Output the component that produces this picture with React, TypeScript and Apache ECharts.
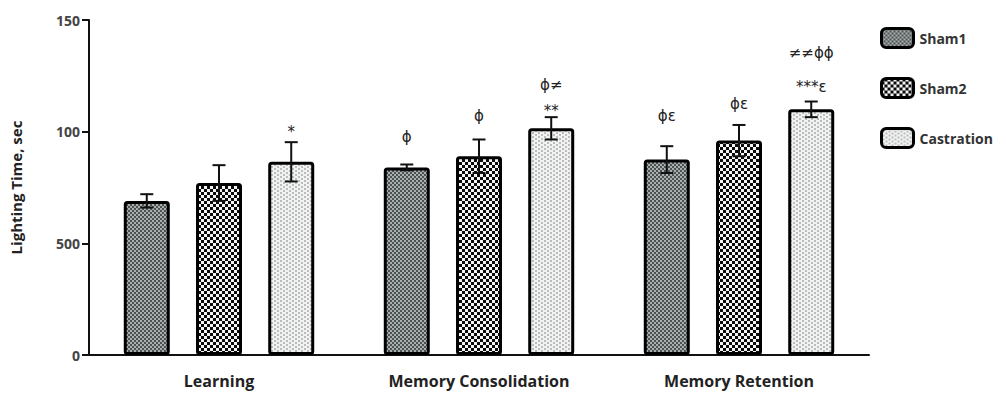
import React, { useEffect, useRef } from "react";
import * as echarts from "echarts";

const categories = ["Learning", "Memory Consolidation", "Memory Retention"];
const seriesNames = ["Sham1", "Sham2", "Castration"];
const sham1Means = [69, 84, 87.5];
const sham1Errors = [3, 1.3, 6];
const sham2Means = [77, 89, 96];
const sham2Errors = [8, 7.5, 7];
const castrationMeans = [86.5, 101.5, 110];
const castrationErrors = [8.8, 5, 3.5];
const yTickValues = [0, 50, 100, 150];
const yTickLabels = ["0", "500", "100", "150"];

// annotation: category index, series index, text, level (data units, centre of text)
const annotationCats = [0, 1, 1, 1, 1, 2, 2, 2, 2];
const annotationSeries = [2, 0, 1, 2, 2, 0, 1, 2, 2];
const annotationTexts = ["*", "ϕ", "ϕ", "**", "ϕ≠", "ϕε", "ϕε", "***ε", "≠≠ϕϕ"];
const annotationLevels = [101, 97.7, 107.2, 110.5, 120.7, 106.8, 112.6, 121.5, 135.1];

const FONT = "'Open Sans', 'DejaVu Sans', sans-serif";
const BAR_W = 46;
const BAR_GAP = 0.57;

function makePattern(kind: number): HTMLCanvasElement {
  const c = document.createElement("canvas");
  const ctx = c.getContext("2d")!;
  if (kind === 0) {
    c.width = 4;
    c.height = 4;
    ctx.fillStyle = "#4c5252";
    ctx.fillRect(0, 0, 4, 4);
    ctx.fillStyle = "#a9afaf";
    ctx.fillRect(0, 0, 2, 2);
    ctx.fillRect(2, 2, 2, 2);
  } else if (kind === 1) {
    c.width = 6;
    c.height = 6;
    ctx.fillStyle = "#0a0a0a";
    ctx.fillRect(0, 0, 6, 6);
    ctx.fillStyle = "#f4f4f4";
    ctx.fillRect(0, 0, 3, 3);
    ctx.fillRect(3, 3, 3, 3);
  } else {
    c.width = 6;
    c.height = 4;
    ctx.fillStyle = "#b9bdbd";
    ctx.fillRect(0, 0, 6, 4);
    ctx.fillStyle = "#f2f2f2";
    ctx.fillRect(0, 0, 4, 2);
    ctx.fillRect(3, 2, 4, 2);
    ctx.fillRect(0, 2, 1, 2);
  }
  return c;
}

export default function App() {
  const ref = useRef<HTMLDivElement>(null);

  useEffect(() => {
    if (!ref.current) return;
    const chart = echarts.init(ref.current, null, { renderer: "svg" });
    const means = [sham1Means, sham2Means, castrationMeans];
    const errors = [sham1Errors, sham2Errors, castrationErrors];
    const step = BAR_W * (1 + BAR_GAP);

    const barSeries = seriesNames.map((name, s) => ({
      name,
      type: "bar",
      data: means[s],
      barWidth: BAR_W,
      barGap: BAR_GAP * 100 + "%",
      z: 2,
      itemStyle: {
        color: { image: makePattern(s), repeat: "repeat" },
        borderColor: "#000",
        borderWidth: 3,
        borderRadius: 2,
      },
    }));

    const errData: number[][] = [];
    for (let s = 0; s < 3; s++) {
      for (let c = 0; c < categories.length; c++) {
        errData.push([c, means[s][c], errors[s][c], s]);
      }
    }

    const option: any = {
      animation: false,
      grid: { left: 83, top: 20, width: 786, bottom: 38 },
      legend: {
        orient: "vertical",
        left: 880,
        top: 27,
        padding: 0,
        itemWidth: 32,
        itemHeight: 19,
        itemGap: 28,
        icon: "roundRect",
        data: seriesNames,
        itemStyle: { borderColor: "#000", borderWidth: 3 },
        textStyle: { fontFamily: FONT, fontWeight: "bold", fontSize: 14, color: "#333", padding: [0, 0, 0, 1] },
        selectedMode: false,
      },
      xAxis: {
        type: "category",
        data: categories,
        axisLine: { lineStyle: { color: "#111", width: 2 } },
        axisTick: { alignWithLabel: true, length: 7, lineStyle: { color: "#111", width: 2 } },
        axisLabel: { fontFamily: FONT, fontWeight: "bold", fontSize: 16, color: "#222", margin: 18 },
      },
      yAxis: {
        type: "value",
        min: 0,
        max: 150,
        interval: 50,
        name: "Lighting Time, sec",
        nameLocation: "middle",
        nameGap: 66,
        nameTextStyle: { fontFamily: FONT, fontWeight: "bold", fontSize: 15, color: "#222" },
        axisLine: { show: true, lineStyle: { color: "#111", width: 2 } },
        axisTick: { show: true, length: 7, lineStyle: { color: "#111", width: 2 } },
        splitLine: { show: false },
        axisLabel: {
          fontFamily: FONT,
          fontWeight: "bold",
          fontSize: 14,
          color: "#444",
          margin: 9,
          formatter: (v: number) => {
            const i = yTickValues.indexOf(v);
            return i >= 0 ? yTickLabels[i] : "";
          },
        },
      },
      series: [
        ...barSeries,
        {
          type: "custom",
          z: 5,
          silent: true,
          data: errData,
          renderItem: (params: any, api: any) => {
            const c = api.value(0);
            const m = api.value(1);
            const e = api.value(2);
            const s = api.value(3);
            const x = api.coord([c, m])[0] + (s - 1) * step;
            const yT = api.coord([c, m + e])[1];
            const yB = api.coord([c, m - e])[1];
            const cap = 6.5;
            const st = { stroke: "#111", lineWidth: 2 };
            return {
              type: "group",
              children: [
                { type: "line", shape: { x1: x, y1: yT, x2: x, y2: yB }, style: st },
                { type: "line", shape: { x1: x - cap, y1: yT, x2: x + cap, y2: yT }, style: st },
                { type: "line", shape: { x1: x - cap, y1: yB, x2: x + cap, y2: yB }, style: st },
              ],
            };
          },
        },
        {
          type: "custom",
          z: 6,
          silent: true,
          data: annotationCats.map((c, i) => [c, annotationLevels[i], annotationSeries[i]]),
          renderItem: (params: any, api: any) => {
            const i = params.dataIndex;
            const c = api.value(0);
            const lv = api.value(1);
            const s = api.value(2);
            const p = api.coord([c, lv]);
            const text = annotationTexts[i];
            const hasStar = text.indexOf("*") >= 0;
            return {
              type: "text",
              x: p[0] + (s - 1) * step,
              y: p[1] + (hasStar ? 3 : 0),
              style: {
                text,
                align: "center",
                verticalAlign: "middle",
                fontFamily: "'DejaVu Sans', sans-serif",
                fontSize: 15,
                fill: "#222",
              },
            };
          },
        },
      ],
    };
    chart.setOption(option);
    return () => chart.dispose();
  }, []);

  return (
    <div
      ref={ref}
      style={{ position: "absolute", left: 0, top: 0, width: 1000, height: 393 }}
    />
  );
}
